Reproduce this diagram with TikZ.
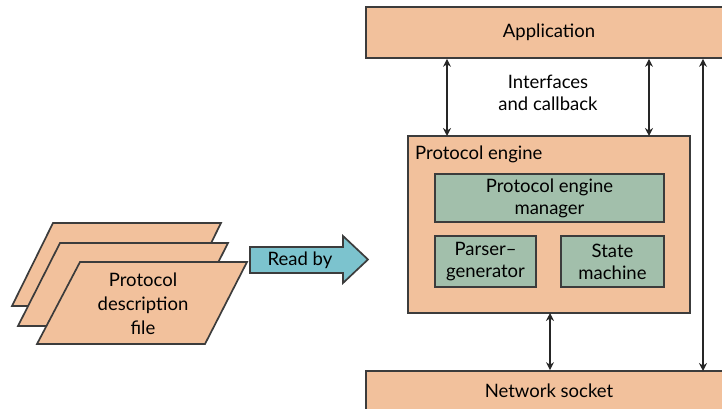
\documentclass[tikz,border=0pt]{standalone}
\usepackage{fontspec}
\setmainfont{Lato}
\usetikzlibrary{arrows.meta}
\definecolor{peach}{HTML}{F2C19C}
\definecolor{sage}{HTML}{A2BFAB}
\definecolor{teal}{HTML}{7CC3CE}
\definecolor{edge}{HTML}{3C3C3C}
\newcommand{\txtsize}{\fontsize{18.5}{22}\selectfont}
\tikzset{
  box/.style={draw=edge, line width=1.7pt, fill=peach, inner sep=0pt, font=\txtsize},
  inner/.style={draw=edge, line width=1.7pt, fill=sage, inner sep=0pt, align=center, font=\txtsize},
  sheet/.style={draw=edge, line width=1.7pt, fill=peach, line join=miter},
  link/.style={line width=1.5pt, draw=black!85, {Stealth[length=8pt,width=8pt]}-{Stealth[length=8pt,width=8pt]}},
  lbl/.style={align=center, font=\txtsize, inner sep=0pt}
}
\begin{document}
\begin{tikzpicture}[x=1pt,y=-1pt]
\useasboundingbox (0,0) rectangle (722,409);

% layers of the stack
\node[box, minimum width=366pt, minimum height=51pt] (app) at (549,32.5) {Application};
\node[box, minimum width=366pt, minimum height=40pt] (net) at (549,391) {Network socket};
\node[box, minimum width=282pt, minimum height=177pt] (engine) at (549,224.5) {};
\node[lbl, anchor=west] (enginelbl) at (415,154) {Protocol engine};

% parts of the protocol engine
\node[inner, minimum width=229pt, minimum height=48pt] (mgr) at (549.5,198) {Protocol engine\\manager};
\node[inner, minimum width=101pt, minimum height=51pt] (parser) at (485.5,261.5) {Parser--\\generator};
\node[inner, minimum width=103pt, minimum height=51pt] (state) at (612.5,261.5) {State\\machine};

% interface text between application and engine
\node[lbl] (iface) at (548,93) {Interfaces\\and callback};

% connectors
\coordinate (a1) at (447,136);
\coordinate (a2) at (649,136);
\coordinate (a3) at (703,371);
\coordinate (a4) at (550,313);
\draw[link] (a1) -- (a1 |- app.south);
\draw[link] (a2) -- (a2 |- app.south);
\draw[link] (a3) -- (a3 |- app.south);
\draw[link] (a4) -- (a4 |- net.north);

% stacked description files
\draw[sheet] (53,223) -- (221,223) -- (180,306) -- (12,306) -- cycle;
\draw[sheet] (60,243) -- (228,243) -- (186,326) -- (18,326) -- cycle;
\draw[sheet] (80,262) -- (247,262) -- (205,344) -- (37,344) -- cycle;
\node[lbl, font=\fontsize{18.5}{24}\selectfont] (file) at (143,304) {Protocol\\description\\file};

% "Read by" block arrow
\draw[draw=edge, line width=1.7pt, fill=teal, line join=miter]
  (250,247) -- (343,247) -- (343,236) -- (368,259.5) -- (343,283) -- (343,273) -- (250,273) -- cycle;
\node[lbl] (readby) at (300,260) {Read by};
\end{tikzpicture}
\end{document}
